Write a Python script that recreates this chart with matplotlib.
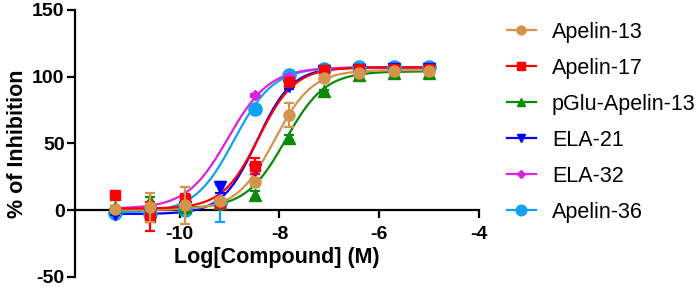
import numpy as np
import matplotlib
matplotlib.use("Agg")
import matplotlib.pyplot as plt

plt.rcParams['font.family'] = ['Liberation Sans', 'DejaVu Sans']
plt.rcParams['axes.unicode_minus'] = False

# log concentrations (M)
log_conc = [-11.29, -10.59, -9.89, -9.19, -8.49, -7.80, -7.10, -6.40, -5.70, -5.00]

names = ['Apelin-13', 'Apelin-17', 'pGlu-Apelin-13', 'ELA-21', 'ELA-32', 'Apelin-36']

# % inhibition means and errors
apelin13 = [0.5, 2, 3.5, 7, 21, 71, 99, 103, 104, 104]
apelin13_err = [1, 11, 14, 2, 3, 9, 2, 1, 1, 1]
apelin17 = [11, -5, 8, 5, 33, 96, 105, 106, 106, 106]
apelin17_err = [2, 11, 4, 2, 6, 2, 1, 1, 1, 1]
pglu13 = [2, 7, 2, 5, 11, 54, 89, 101, 103, 103]
pglu13_err = [1, 3, 2, 1, 3, 2, 1, 1, 1, 1]
ela21 = [-3, -3, 2, 17, 30, 93, 104, 105, 106, 106]
ela21_err = [1, 1, 1, 4, 3, 2, 1, 1, 1, 1]
ela32 = [1, 2, 3, 8, 86, 100, 105, 106, 107, 107]
ela32_err = [1, 1, 1, 1, 1, 1, 1, 1, 1, 1]
apelin36 = [-2.5, -3, 0, 5, 76, 101, 106, 107, 107, 107]
apelin36_err = [1, 1, 1, 14, 2, 1, 1, 1, 1, 1]

# fitted 4PL parameters: bottom, top, logEC50, hill
bottoms = [0, 1, 1, -3, 1, -2]
tops = [105, 107, 104, 107, 107, 107]
log_ec50 = [-8.10, -8.42, -7.88, -8.45, -9.03, -8.91]
hills = [1.15, 1.2, 1.1, 1.25, 1.05, 1.1]

means = [apelin13, apelin17, pglu13, ela21, ela32, apelin36]
errs = [apelin13_err, apelin17_err, pglu13_err, ela21_err, ela32_err, apelin36_err]
colors = ['#D4944C', '#FF0000', '#0A8A0A', '#0000FF', '#DD22DD', '#12A0F2']
markers = ['o', 's', '^', 'v', 'D', 'o']
msizes = [8, 7.5, 8, 8, 5.5, 9.5]

fig = plt.figure(figsize=(6.99, 2.87), dpi=100)
ax = fig.add_axes([75 / 699, 10.3 / 287, 404 / 699, 266.7 / 287])

xs = np.linspace(min(log_conc), max(log_conc), 300)
handles = []
line_z = [10, 10.5, 9, 8, 9.5, 9.2]
for i in range(len(names)):
    z = 20 - i  # first series drawn on top
    b, t, ec, h = bottoms[i], tops[i], log_ec50[i], hills[i]
    ys = b + (t - b) / (1 + 10 ** ((ec - xs) * h))
    ax.plot(xs, ys, color=colors[i], lw=1.6, zorder=line_z[i])
    ax.errorbar(log_conc, means[i], yerr=errs[i], fmt='none', ecolor=colors[i],
                elinewidth=1.6, capsize=3.6, capthick=1.6, zorder=z)
    ax.plot(log_conc, means[i], ls='none', marker=markers[i], ms=msizes[i],
            color=colors[i], zorder=z)
    hd, = ax.plot([], [], color=colors[i], lw=1.6, marker=markers[i],
                  ms=msizes[i] * 0.8)
    handles.append(hd)

ax.set_xlim(-12.1, -4)
ax.set_ylim(-50, 150)
ax.set_xticks([-10, -8, -6, -4])
ax.set_yticks([-50, 0, 50, 100, 150])
ax.spines['top'].set_visible(False)
ax.spines['right'].set_visible(False)
ax.spines['bottom'].set_position(('data', 0))
for s in ['left', 'bottom']:
    ax.spines[s].set_linewidth(1.6)
ax.tick_params(axis='both', width=1.6, length=5.5, labelsize=14)
ax.tick_params(axis='x', pad=6)
ax.tick_params(axis='y', pad=2)
for lab in ax.get_xticklabels() + ax.get_yticklabels():
    lab.set_fontweight('bold')

ax.set_xlabel('Log[Compound] (M)', fontsize=15.5, fontweight='bold', labelpad=3)
ax.set_ylabel('% of Inhibition', fontsize=15.5, fontweight='bold', labelpad=3)

fig.legend(handles, names, loc='upper left', bbox_to_anchor=(0.725, 0.925),
           frameon=False, fontsize=15.5, handlelength=1.35, handletextpad=0.75,
           labelspacing=0.7, borderpad=0, borderaxespad=0)

fig.savefig('out.png', dpi=100)
